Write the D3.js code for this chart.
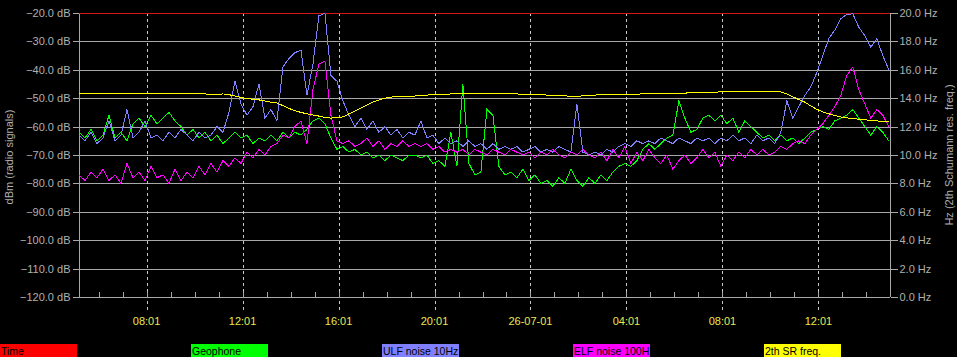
<!DOCTYPE html>
<html><head><meta charset="utf-8">
<script src="https://cdn.jsdelivr.net/npm/d3@7"></script>
<style>body{margin:0;background:#000;}svg{display:block}</style>
</head><body>
<svg id="c" width="957" height="357"></svg>
<script>
// ---- data ----
const startTime = new Date(2001, 6, 25, 5, 12);
const endTime = new Date(2001, 6, 26, 15, 0);
const stepMinutes = 15;

const geophone = [-62,-64,-61,-65,-63,-56,-64,-62,-65,-59,-57,-60,-56,-59,-57,-55,-58,-60,-63,-61,
-64,-62,-65,-63,-66,-64,-62,-64,-63,-66,-64,-65,-63,-65,-62,-64,-62,-63,-61,-58,
-57,-59,-64,-68,-67,-69,-68,-70,-69,-71,-70,-72,-70,-71,-72,-70,-70,-71,-70,-73,
-72,-74,-62,-74,-45,-73,-77,-76,-54,-56,-74,-77,-76,-78,-75,-79,-77,-80,-79,-81,
-78,-80,-75,-79,-81,-78,-80,-77,-79,-76,-74,-73,-74,-72,-68,-66,-68,-66,-64,-63,
-51,-57,-62,-61,-57,-56,-58,-56,-59,-57,-62,-58,-60,-62,-64,-63,-65,-63,-65,-64,
-66,-64,-62,-61,-60,-61,-58,-57,-56,-54,-57,-60,-63,-60,-62,-65];

const ulfNoise = [-63,-65,-62,-66,-64,-58,-65,-63,-54,-64,-62,-58,-64,-63,-65,-62,-64,-61,-63,-65,
-62,-64,-63,-60,-62,-55,-44,-52,-56,-53,-45,-57,-54,-58,-39,-36,-34,-33,-49,-38,
-21,-20,-42,-44,-51,-56,-60,-57,-61,-58,-62,-60,-63,-61,-64,-62,-63,-58,-64,-63,
-66,-64,-66,-65,-67,-65,-67,-66,-68,-66,-68,-67,-68,-67,-69,-68,-67,-69,-68,-69,
-67,-68,-69,-52,-69,-70,-69,-70,-68,-69,-67,-66,-67,-65,-66,-65,-66,-64,-65,-66,
-64,-65,-66,-64,-65,-64,-66,-64,-65,-63,-65,-64,-66,-63,-65,-64,-66,-62,-51,-57,
-53,-49,-46,-41,-35,-29,-26,-22,-20.5,-20.3,-25,-28,-32,-29,-35,-40];

const elfNoise = [-77,-79,-76,-78,-75,-79,-77,-80,-73,-78,-76,-79,-74,-78,-77,-80,-75,-79,-76,-78,
-74,-77,-73,-76,-72,-74,-71,-73,-69,-71,-68,-70,-67,-66,-63,-64,-60,-58,-66,-47,
-38,-37,-56,-65,-66,-65,-67,-66,-64,-67,-65,-68,-66,-67,-65,-67,-66,-67,-66,-68,
-67,-69,-68,-69,-68,-70,-68,-69,-70,-68,-69,-70,-68,-69,-70,-69,-71,-69,-70,-68,
-70,-71,-69,-70,-68,-70,-71,-69,-72,-68,-71,-67,-73,-69,-72,-68,-71,-73,-70,-75,
-72,-70,-73,-71,-68,-71,-69,-74,-70,-72,-69,-71,-68,-70,-68,-70,-69,-67,-68,-66,
-65,-66,-63,-61,-59,-56,-53,-49,-42,-39,-47,-52,-57,-54,-56,-60];

const srFreq = [14.35,14.35,14.36,14.35,14.34,14.35,14.34,14.33,14.34,14.35,14.34,14.33,14.34,14.33,14.34,14.33,14.32,14.33,14.32,14.31,
14.31,14.30,14.28,14.28,14.30,14.25,14.15,14.06,13.98,13.92,13.88,13.80,13.72,13.66,13.48,13.28,13.12,13.00,12.90,12.82,
12.74,12.65,12.60,12.63,12.68,12.90,13.10,13.32,13.52,13.73,13.88,14.00,14.08,14.10,14.12,14.14,14.15,14.20,14.22,14.25,
14.27,14.28,14.30,14.31,14.32,14.32,14.33,14.34,14.33,14.34,14.33,14.32,14.30,14.30,14.28,14.27,14.25,14.24,14.22,14.22,
14.20,14.18,14.12,14.10,14.18,14.20,14.22,14.24,14.25,14.26,14.27,14.27,14.28,14.29,14.30,14.30,14.31,14.31,14.32,14.32,
14.34,14.36,14.38,14.40,14.41,14.42,14.43,14.44,14.45,14.46,14.46,14.46,14.46,14.46,14.46,14.46,14.46,14.44,14.30,14.10,
13.90,13.72,13.45,13.22,13.03,12.90,12.78,12.68,12.62,12.56,12.52,12.48,12.44,12.40,12.37,12.35];

const timeLine = [-20, -20];

const dbTicks = [-20,-30,-40,-50,-60,-70,-80,-90,-100,-110,-120];
const hzTicks = [20,18,16,14,12,10,8,6,4,2,0];
const timeTicks = [new Date(2001,6,25,8,1), new Date(2001,6,25,12,1), new Date(2001,6,25,16,1), new Date(2001,6,25,20,1),
                   new Date(2001,6,26,0,1), new Date(2001,6,26,4,1), new Date(2001,6,26,8,1), new Date(2001,6,26,12,1)];
const timeTickLabels = ["08:01","12:01","16:01","20:01","26-07-01","04:01","08:01","12:01"];

const legendNames = ["Time","Geophone","ULF noise 10Hz","ELF noise 100H","2th SR freq."];
const legendColors = ["#ff0000","#00ff00","#8080ff","#ff00ff","#ffff00"];

// ---- chart ----
const svg = d3.select("#c");
svg.append("rect").attr("width",957).attr("height",357).attr("fill","#000");
const L = 79, R = 890, T = 13, B = 297;
const x = d3.scaleTime().domain([startTime, endTime]).range([L, R]);
const yDb = d3.scaleLinear().domain([-120, -20]).range([B, T]);
const yHz = d3.scaleLinear().domain([0, 20]).range([B, T]);
const tAt = i => new Date(startTime.getTime() + i * stepMinutes * 60000);

const gridCol = "#a8a8a8", txtCol = "#b0b0b0";
const font = "Liberation Sans, Arial, sans-serif";

// horizontal gridlines
svg.append("g").selectAll("line").data(dbTicks.filter(d => d !== -20 && d !== -120)).join("line")
  .attr("x1", L).attr("x2", R).attr("y1", d => Math.round(yDb(d)) + 0.5).attr("y2", d => Math.round(yDb(d)) + 0.5)
  .attr("stroke", gridCol).attr("stroke-width", 1).attr("shape-rendering","crispEdges");

// vertical dashed lines at major time ticks
svg.append("g").selectAll("line").data(timeTicks).join("line")
  .attr("x1", d => Math.round(x(d)) + 0.5).attr("x2", d => Math.round(x(d)) + 0.5)
  .attr("y1", T).attr("y2", B + 16)
  .attr("stroke", "#c8c8c8").attr("stroke-dasharray", "3,3").attr("shape-rendering","crispEdges");

// left axis
const leftAxis = d3.axisLeft(yDb).tickValues(dbTicks).tickSize(7).tickPadding(2)
  .tickFormat(d => d3.format(".1f")(d) + " dB");
const gl = svg.append("g").attr("transform", `translate(${L + 0.5},0)`).call(leftAxis);
// right axis
const rightAxis = d3.axisRight(yHz).tickValues(hzTicks).tickSize(7).tickPadding(2)
  .tickFormat(d => d3.format(".1f")(d) + " Hz");
const gr = svg.append("g").attr("transform", `translate(${R + 0.5},0)`).call(rightAxis);
// bottom axis (hourly minor ticks pointing up)
const hourTicks = d3.timeHour.every(1).range(startTime, endTime).map(d => new Date(d.getTime() + 60000));
const bottomAxis = d3.axisBottom(x).tickValues(hourTicks).tickSize(-6).tickFormat("");
const gb = svg.append("g").attr("transform", `translate(0,${B + 0.5})`).call(bottomAxis);

[gl, gr, gb].forEach(g => {
  g.selectAll(".domain").attr("stroke", gridCol).attr("shape-rendering","crispEdges");
  g.selectAll(".tick line").attr("stroke", gridCol).attr("shape-rendering","crispEdges");
  g.selectAll("text").attr("fill", txtCol).attr("font-family", font).attr("font-size", 11);
});
gl.select(".domain").attr("d", `M0,${T}V${B}`);
gr.select(".domain").attr("d", `M0,${T}V${B}`);
gb.select(".domain").attr("d", `M${L},0H${R}`);

// time labels
svg.append("g").selectAll("text").data(timeTicks).join("text")
  .attr("x", d => x(d)).attr("y", 325).attr("text-anchor", "middle")
  .attr("fill", "#e8e850").attr("font-family", font).attr("font-size", 11)
  .text((d, i) => timeTickLabels[i]);

// axis titles
svg.append("text").attr("transform", "translate(13,157) rotate(-90)").attr("text-anchor","middle")
  .attr("fill", txtCol).attr("font-family", font).attr("font-size", 11).text("dBm (radio signals)");
svg.append("text").attr("transform", "translate(953,155) rotate(-90)").attr("text-anchor","middle")
  .attr("fill", txtCol).attr("font-family", font).attr("font-size", 11).text("Hz (2th Schumann res. freq.)");

// series
const lineDb = d3.line().x((d, i) => x(tAt(i))).y(d => yDb(d));
const lineHz = d3.line().x((d, i) => x(tAt(i))).y(d => yHz(d));
svg.append("path").datum(timeLine)
  .attr("d", d3.line().x((d, i) => i === 0 ? x(startTime) : x(endTime)).y(d => Math.round(yDb(d)) + 0.5))
  .attr("stroke", "#d01818").attr("fill", "none").attr("shape-rendering","crispEdges");
const series = [[geophone, legendColors[1], lineDb], [ulfNoise, legendColors[2], lineDb], [elfNoise, legendColors[3], lineDb], [srFreq, legendColors[4], lineHz]];
series.forEach(([data, col, gen]) => {
  svg.append("path").datum(data).attr("d", gen).attr("fill", "none").attr("stroke", col)
    .attr("stroke-width", 1).attr("shape-rendering", "crispEdges");
});

// legend
const defs = svg.append("defs");
legendNames.forEach((d, i) => {
  defs.append("clipPath").attr("id", "lc" + i).append("rect").attr("width", 77).attr("height", 13);
});
const lg = svg.append("g").selectAll("g").data(legendNames).join("g")
  .attr("transform", (d, i) => `translate(${i * 191},344)`);
lg.append("rect").attr("width", 77).attr("height", 13).attr("fill", (d, i) => legendColors[i]);
lg.append("text").attr("x", 1).attr("y", 11).attr("fill", "#000").attr("font-family", font)
  .attr("font-size", 10.5).attr("clip-path", (d, i) => `url(#lc${i})`).text(d => d);
</script>
</body></html>
